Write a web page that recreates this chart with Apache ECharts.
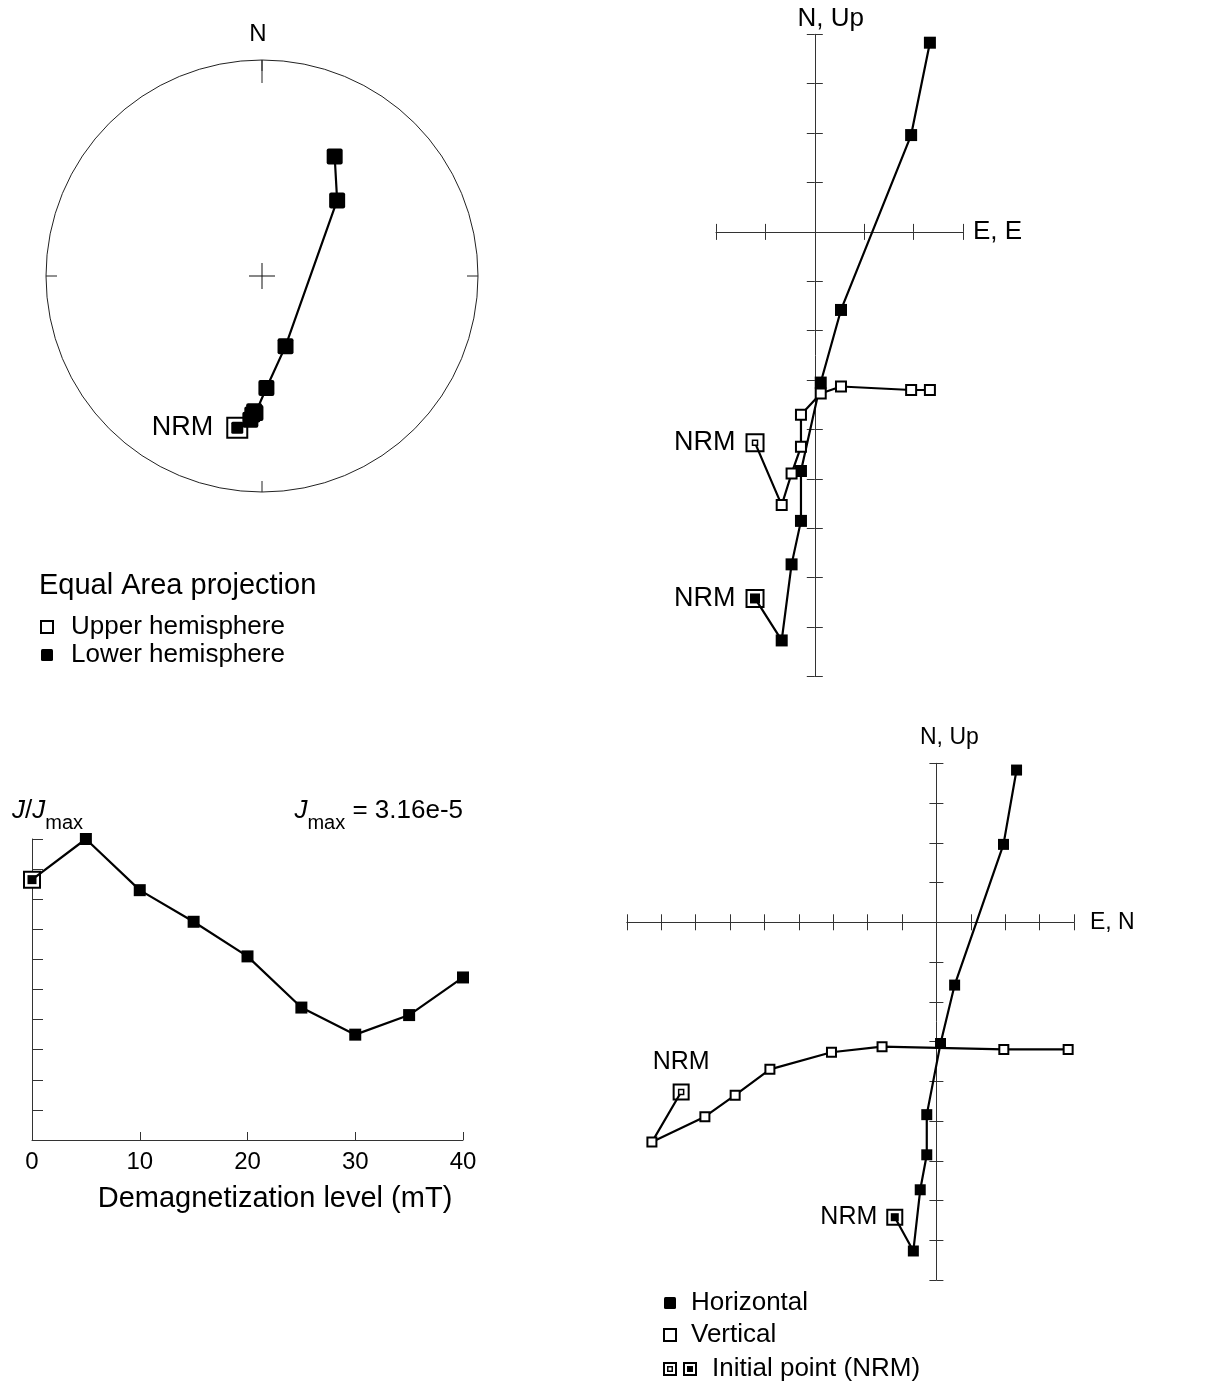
<!DOCTYPE html>
<html>
<head>
<meta charset="utf-8">
<title>Demagnetization diagrams</title>
<script src="https://cdn.jsdelivr.net/npm/echarts@6/dist/echarts.min.js"></script>
<style>
  html, body { margin: 0; padding: 0; background: #fff; }
  #chart { width: 1225px; height: 1388px; }
</style>
</head>
<body>
<div id="chart"></div>
<script>
// ---- Demagnetization data (AF steps) ----
const steps = [0, 5, 10, 15, 20, 25, 30, 35, 40];            // mT, first step = NRM
// Remanence components, in units of Jmax / 10 (one Zijderveld tick)
const east  = [-1.21, -0.67, -0.47, -0.28, -0.28, 0.12, 0.53, 1.95, 2.33];
const north = [-7.42, -8.27, -6.73, -5.85, -4.84, -3.05, -1.58, 1.96, 3.83];
const up    = [-4.27, -5.53, -4.89, -4.35, -3.70, -3.27, -3.13, -3.20, -3.20];
// Normalised intensity J / Jmax
const jRatio = [0.865, 1.0, 0.83, 0.725, 0.61, 0.44, 0.35, 0.415, 0.54];
const jMaxText = '3.16e-5';
const fieldTicks = [0, 10, 20, 30, 40];

// ---- styling ----
const FONT = '"Liberation Sans", Arial, Helvetica, sans-serif';
const INK = '#000';
const AXIS = '#333';
const thin = { color: AXIS, width: 1 };
const LINE_W = 2.2;

// ---- derived projections ----
const toDeg = 180 / Math.PI;
// Lambert equal-area: radius 1 on the horizontal plane, 0 at vertical
const equalArea = steps.map((s, i) => {
  const h = Math.hypot(east[i], north[i]);
  const dec = (Math.atan2(east[i], north[i]) * toDeg + 360) % 360;
  const inc = Math.atan2(-up[i], h) * toDeg;
  const r = Math.SQRT2 * Math.sin((90 - Math.abs(inc)) / 2 / toDeg);
  return [r, dec];
});
const horizontalEN = steps.map((s, i) => [east[i], north[i]]);
const verticalEU = steps.map((s, i) => [east[i], up[i]]);
const verticalNU = steps.map((s, i) => [north[i], up[i]]);
const intensity = steps.map((s, i) => [s, jRatio[i]]);

const filled = { color: INK, borderWidth: 0, opacity: 1 };
const open = { color: '#fff', borderColor: INK, borderWidth: 2, opacity: 1 };
const openThin = { color: '#fff', borderColor: INK, borderWidth: 1.5, opacity: 1 };
const roundSquare = 'path://M2,0H14Q16,0 16,2V14Q16,16 14,16H2Q0,16 0,14V2Q0,0 2,0Z';
const softSquare = 'path://M1.5,0H10.5Q12,0 12,1.5V10.5Q12,12 10.5,12H1.5Q0,12 0,10.5V1.5Q0,0 1.5,0Z';

function firstAs(points, size, style) {
  return points.map((p, i) => (i === 0 ? { value: p, symbolSize: size, itemStyle: style } : p));
}

// Zijderveld axes: a pair per dimension so that ticks cross the axis line
function crossAxes(dim, gridIndex, min, max, tickLen, otherIndex, name, nameOpts) {
  const base = {
    gridIndex, type: 'value', min, max, interval: 1,
    axisLabel: { show: false }, splitLine: { show: false },
    axisTick: { show: true, length: tickLen, lineStyle: thin }
  };
  const first = Object.assign({}, base, {
    position: dim === 'x' ? 'bottom' : 'left',
    axisLine: { show: true, onZero: true, onZeroAxisIndex: otherIndex, lineStyle: thin },
    name, nameLocation: 'end'
  }, nameOpts);
  const second = Object.assign({}, base, {
    position: dim === 'x' ? 'top' : 'right',
    axisLine: { show: true, onZero: true, onZeroAxisIndex: otherIndex, lineStyle: { color: AXIS, width: 1, opacity: 0 } }
  });
  return [first, second];
}

const trX = crossAxes('x', 0, -2, 3, 8, 0, 'E, E',
  { nameGap: 10, nameTextStyle: { fontFamily: FONT, fontSize: 26, color: INK } });
const trY = crossAxes('y', 0, -9, 4, 8, 0, 'N, Up',
  { nameGap: 2, nameTextStyle: { fontFamily: FONT, fontSize: 26, color: INK, padding: [0, 0, 0, 32] } });
const brX = crossAxes('x', 2, -9, 4, 8, 3, 'E, N',
  { nameGap: 16, nameTextStyle: { fontFamily: FONT, fontSize: 23, color: INK } });
const brY = crossAxes('y', 2, -9, 4, 7, 3, 'N, Up',
  { nameGap: 14, nameTextStyle: { fontFamily: FONT, fontSize: 23, color: INK, padding: [0, 0, 0, 26] } });

const jjX = {
  gridIndex: 1, type: 'value', min: fieldTicks[0], max: fieldTicks[fieldTicks.length - 1],
  interval: fieldTicks[1] - fieldTicks[0], position: 'bottom',
  axisLine: { show: true, onZero: false, lineStyle: thin },
  axisTick: { show: true, inside: true, length: 8, lineStyle: thin },
  axisLabel: { show: true, margin: 10, fontFamily: FONT, fontSize: 24, color: INK },
  splitLine: { show: false }
};
const jjY = {
  gridIndex: 1, type: 'value', min: 0, max: 1, interval: 0.1, position: 'left',
  axisLine: { show: true, onZero: false, lineStyle: thin },
  axisTick: { show: true, inside: true, length: 11, lineStyle: thin },
  axisLabel: { show: false }, splitLine: { show: false }
};

const nrmLabel = (size, pos, dist) => ({
  show: true, position: pos, distance: dist, formatter: 'NRM',
  fontFamily: FONT, fontSize: size, color: INK, opacity: 1
});

const subRich = {
  i: { fontFamily: FONT, fontStyle: 'italic', fontSize: 26, verticalAlign: 'top', fill: INK },
  n: { fontFamily: FONT, fontSize: 26, verticalAlign: 'top', fill: INK },
  s: { fontFamily: FONT, fontSize: 20, verticalAlign: 'top', padding: [15, 0, 0, 0], fill: INK }
};

const option = {
  animation: false,
  backgroundColor: '#fff',
  textStyle: { fontFamily: FONT },
  grid: [
    { left: 716, top: 34.3, width: 247, height: 642.2 },      // Zijderveld, E / N & E / Up
    { left: 32, top: 839, width: 431, height: 301 },           // intensity decay
    { left: 626.8, top: 763.3, width: 447.2, height: 516.7 }   // Zijderveld, E / N & N / Up
  ],
  xAxis: [trX[0], trX[1], jjX, brX[0], brX[1]],
  yAxis: [trY[0], trY[1], jjY, brY[0], brY[1]],
  polar: [
    { center: [262, 276], radius: 216 },
    { center: [262, 276], radius: 216 }
  ],
  angleAxis: [
    {
      polarIndex: 0, type: 'value', min: 0, max: 360, interval: 90, startAngle: 90, clockwise: true,
      axisLine: { show: true, lineStyle: { color: '#222', width: 1 } },
      axisTick: { show: true, inside: true, length: 11, lineStyle: { color: '#222', width: 1 } },
      axisLabel: { show: false }, splitLine: { show: false }, splitArea: { show: false }
    },
    {
      polarIndex: 1, type: 'value', min: 0, max: 360, interval: 360, startAngle: 90, clockwise: true,
      axisLine: { show: false },
      axisTick: { show: true, inside: true, length: 23, lineStyle: { color: '#222', width: 1 } },
      axisLabel: {
        show: true, margin: 14, formatter: v => (v === 0 ? 'N' : ''),
        fontFamily: FONT, fontSize: 24, color: INK, padding: [0, 8, 0, 0]
      },
      splitLine: { show: false }, splitArea: { show: false }
    }
  ],
  radiusAxis: [
    { polarIndex: 0, type: 'value', min: 0, max: 1, show: false, splitLine: { show: false } },
    { polarIndex: 1, type: 'value', min: 0, max: 1, show: false, splitLine: { show: false } }
  ],
  legend: [
    {
      left: 40, top: 614, padding: 0, orient: 'vertical', itemGap: 2, itemWidth: 12, itemHeight: 12,
      selectedMode: false,
      textStyle: { fontFamily: FONT, fontSize: 26, color: INK, padding: [0, 0, 0, 13] },
      data: [
        { name: 'Upper hemisphere', icon: 'rect', itemStyle: { color: '#fff', borderColor: INK, borderWidth: 2 } },
        { name: 'Lower hemisphere', icon: softSquare, itemStyle: { color: INK, borderWidth: 0 } }
      ]
    },
    {
      left: 663, top: 1290, padding: 0, orient: 'vertical', itemGap: 6, itemWidth: 12, itemHeight: 12,
      selectedMode: false,
      textStyle: { fontFamily: FONT, fontSize: 26, color: INK, padding: [0, 0, 0, 10] },
      data: [
        { name: 'Horizontal', icon: softSquare, itemStyle: { color: INK, borderWidth: 0 } },
        { name: 'Vertical', icon: 'rect', itemStyle: { color: '#fff', borderColor: INK, borderWidth: 2 } }
      ]
    },
    {
      left: 663, top: 1356, padding: 0, orient: 'vertical', itemWidth: 34, itemHeight: 14,
      selectedMode: false,
      textStyle: { fontFamily: FONT, fontSize: 26, color: INK, padding: [0, 0, 0, 10] },
      data: [{
        name: 'Initial point (NRM)',
        icon: 'path://M0,0H14V14H0Z M2,2V12H12V2Z M4,4H10V10H4Z M5.5,5.5V8.5H8.5V5.5Z ' +
              'M20,0H34V14H20Z M22,2V12H32V2Z M24,4H30V10H24Z',
        itemStyle: { color: INK, borderWidth: 0 }
      }]
    }
  ],
  graphic: [
    { type: 'text', x: 39, y: 586, style: { text: 'Equal Area projection', fontFamily: FONT, fontSize: 29, fill: INK, verticalAlign: 'middle' } },
    {
      type: 'text', x: 12, y: 798,
      style: { text: '{i|J}{n|/}{i|J}{s|max}', verticalAlign: 'top', fill: INK, rich: subRich }
    },
    {
      type: 'text', x: 463, y: 798,
      style: { text: '{i|J}{s|max}{n| = ' + jMaxText + '}', align: 'right', verticalAlign: 'top', fill: INK, rich: subRich }
    },
    { type: 'text', x: 275, y: 1199, style: { text: 'Demagnetization level (mT)', fontFamily: FONT, fontSize: 29, fill: INK, align: 'center', verticalAlign: 'middle' } }
  ],
  series: [
    // ---- equal-area stereonet ----
    {
      name: 'Initial point (NRM)', type: 'scatter', coordinateSystem: 'polar', polarIndex: 0,
      data: [equalArea[0]], symbol: 'rect', symbolSize: 20, itemStyle: open,
      label: nrmLabel(27, 'left', 13), silent: true
    },
    {
      name: 'pole', type: 'scatter', coordinateSystem: 'polar', polarIndex: 0,
      data: [[0, 0]], symbol: 'path://M0,12.5H26V13.5H0Z M12.5,0H13.5V26H12.5Z',
      symbolSize: 26, itemStyle: { color: '#111', opacity: 1 }, silent: true
    },
    {
      name: 'Upper hemisphere', type: 'scatter', coordinateSystem: 'polar', polarIndex: 0,
      data: equalArea.filter((p, i) => up[i] > 0), symbol: roundSquare, symbolSize: 16, itemStyle: open
    },
    {
      name: 'Lower hemisphere', type: 'line', coordinateSystem: 'polar', polarIndex: 0,
      data: firstAs(equalArea, 12, filled), symbol: roundSquare, symbolSize: 16,
      itemStyle: filled, lineStyle: { color: INK, width: LINE_W }, silent: true
    },
    // ---- intensity decay ----
    {
      name: 'Initial point (NRM)', type: 'scatter', xAxisIndex: 2, yAxisIndex: 2,
      data: [intensity[0]], symbol: 'rect', symbolSize: 16, itemStyle: open, silent: true
    },
    {
      name: 'J/Jmax', type: 'line', xAxisIndex: 2, yAxisIndex: 2,
      data: firstAs(intensity, 9, filled), symbol: 'rect', symbolSize: 12,
      itemStyle: filled, lineStyle: { color: INK, width: LINE_W }, silent: true
    },
    // ---- Zijderveld: E/N horizontal, E/Up vertical ----
    {
      name: 'Initial point (NRM)', type: 'scatter', xAxisIndex: 0, yAxisIndex: 0,
      data: [horizontalEN[0], verticalEU[0]], symbol: 'rect', symbolSize: 17, itemStyle: open,
      label: nrmLabel(27, 'left', 10), silent: true
    },
    {
      name: 'Horizontal', type: 'line', xAxisIndex: 0, yAxisIndex: 0,
      data: firstAs(horizontalEN, 10, filled), symbol: 'rect', symbolSize: 12,
      itemStyle: filled, lineStyle: { color: INK, width: LINE_W }, silent: true
    },
    {
      name: 'Vertical', type: 'line', xAxisIndex: 0, yAxisIndex: 0,
      data: firstAs(verticalEU, 5, openThin), symbol: 'rect', symbolSize: 10,
      itemStyle: open, lineStyle: { color: INK, width: LINE_W }, silent: true
    },
    // ---- Zijderveld: E/N horizontal, N/Up vertical ----
    {
      name: 'Initial point (NRM)', type: 'scatter', xAxisIndex: 3, yAxisIndex: 3,
      data: [
        { value: horizontalEN[0], label: { position: 'left' } },
        { value: verticalNU[0], label: { position: 'top' } }
      ],
      symbol: 'rect', symbolSize: 15, itemStyle: open,
      label: nrmLabel(25, 'left', 9), silent: true
    },
    {
      name: 'Horizontal', type: 'line', xAxisIndex: 3, yAxisIndex: 3,
      data: firstAs(horizontalEN, 8, filled), symbol: 'rect', symbolSize: 11,
      itemStyle: filled, lineStyle: { color: INK, width: LINE_W }, silent: true
    },
    {
      name: 'Vertical', type: 'line', xAxisIndex: 3, yAxisIndex: 3,
      data: firstAs(verticalNU, 5, openThin), symbol: 'rect', symbolSize: 9,
      itemStyle: open, lineStyle: { color: INK, width: LINE_W }, silent: true
    }
  ]
};

const chart = echarts.init(document.getElementById('chart'), null, { renderer: 'canvas' });
chart.setOption(option);
</script>
</body>
</html>
